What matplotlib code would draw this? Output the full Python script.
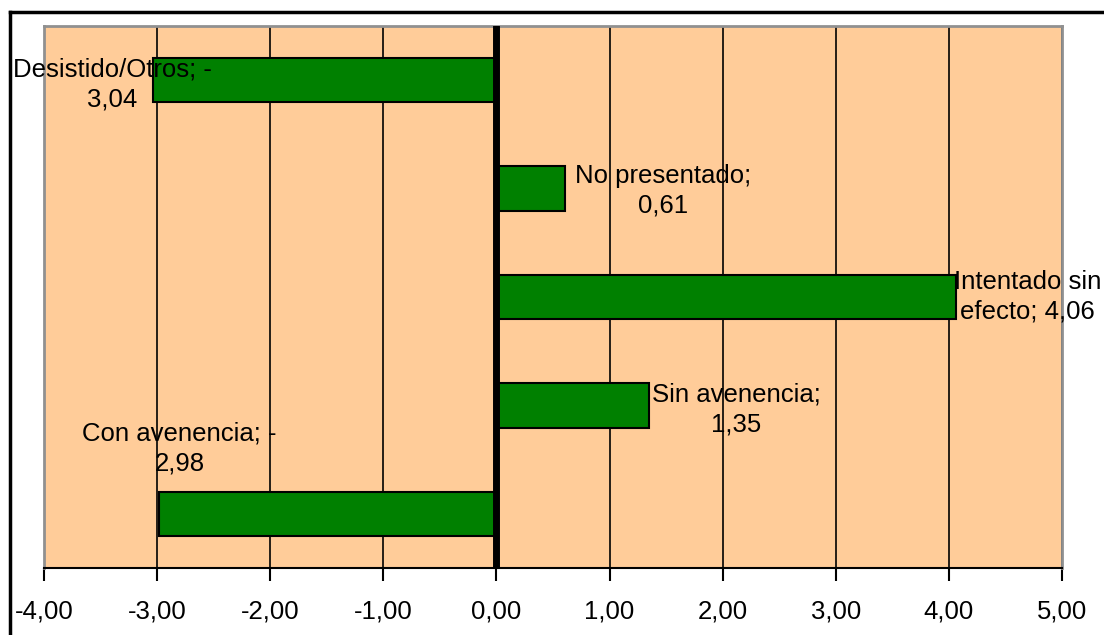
import matplotlib
matplotlib.use("Agg")
import matplotlib.pyplot as plt
from matplotlib.lines import Line2D

plt.rcParams['font.family'] = ['Liberation Sans', 'DejaVu Sans']

categories = ["Con avenencia", "Sin avenencia", "Intentado sin efecto", "No presentado", "Desistido/Otros"]
values = [-2.98, 1.35, 4.06, 0.61, -3.04]
label_texts = ["Con avenencia; -\n2,98", "Sin avenencia;\n1,35", "Intentado sin\nefecto; 4,06",
               "No presentado;\n0,61", "Desistido/Otros; -\n3,04"]
xticks = [-4, -3, -2, -1, 0, 1, 2, 3, 4, 5]
xtick_labels = ["-4,00", "-3,00", "-2,00", "-1,00", "0,00", "1,00", "2,00", "3,00", "4,00", "5,00"]

W, H = 1104, 635
fig = plt.figure(figsize=(W / 100, H / 100), dpi=100)
ax = fig.add_axes([44 / W, 1 - 568 / H, (1062 - 44) / W, (568 - 26) / H])
ax.set_facecolor('#FFCC99')

ypos = list(range(len(categories)))
ax.barh(ypos, values, height=0.41, color='#008000', edgecolor='black', linewidth=1.5, zorder=3)

ax.set_xlim(-4, 5)
ax.set_ylim(-0.5, len(categories) - 0.5)
ax.set_xticks(xticks)
ax.set_xticklabels(xtick_labels, fontsize=18.5)
ax.set_yticks([])
for x in xticks:
    if x != 0:
        ax.axvline(x, color='black', linewidth=1.2, zorder=1)
ax.axvline(0, color='black', linewidth=5, zorder=4, solid_capstyle='round')

for side in ['left', 'top', 'right']:
    ax.spines[side].set_color('#909090')
    ax.spines[side].set_linewidth(2)
ax.spines['bottom'].set_color('black')
ax.spines['bottom'].set_linewidth(1.5)
ax.tick_params(axis='x', direction='out', length=9, width=1.5, pad=14, colors='black')

offsets = [(20, 65), (87, -4), (72, 0), (98, -2), (-40, -4)]
for y, v, t, (dx, dy) in zip(ypos, values, label_texts, offsets):
    ax.annotate(t, xy=(v, y), xytext=(dx, dy), textcoords='offset pixels',
                ha='center', va='center', fontsize=18.5, linespacing=1.3,
                zorder=6, annotation_clip=False)

# outer border
fig.add_artist(Line2D([10 / W, 1.0], [1 - 12 / H, 1 - 12 / H], color='black', linewidth=2.5,
                      transform=fig.transFigure))
fig.add_artist(Line2D([10 / W, 10 / W], [1 - 12 / H, 0], color='black', linewidth=2.5,
                      transform=fig.transFigure))

fig.savefig('out.png', dpi=100)
